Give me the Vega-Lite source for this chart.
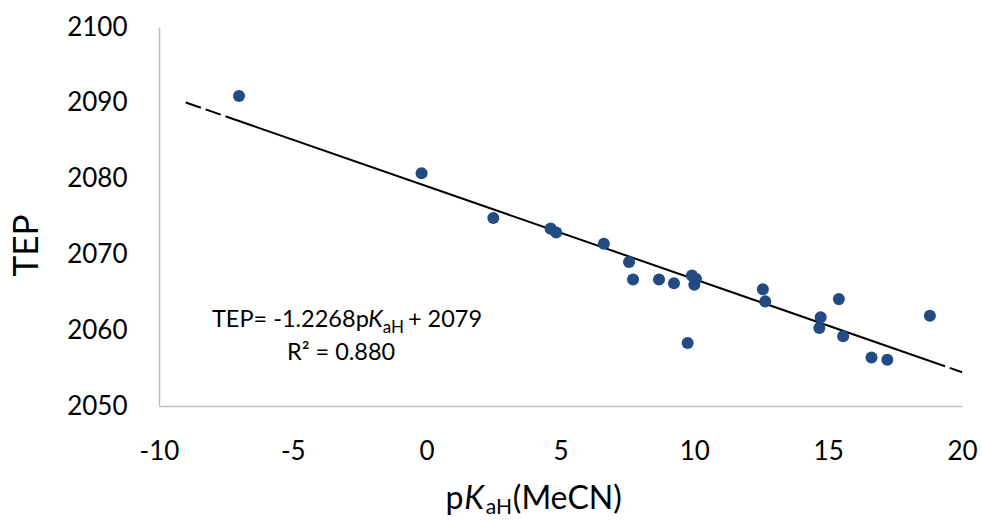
{
  "$schema": "https://vega.github.io/schema/vega-lite/v6.json",
  "width": 803,
  "height": 379,
  "autosize": {"type": "none"},
  "padding": {"left": 159, "top": 27, "right": 20, "bottom": 114},
  "background": "white",
  "config": {
    "view": {"stroke": null},
    "font": "Lato",
    "text": {"font": "Lato", "color": "#000000"}
  },
  "datasets": {
    "points": [
      {"pKaH": -7.01, "TEP": 2090.9},
      {"pKaH": -0.19, "TEP": 2080.7},
      {"pKaH": 2.49, "TEP": 2074.8},
      {"pKaH": 4.63, "TEP": 2073.4},
      {"pKaH": 4.84, "TEP": 2072.9},
      {"pKaH": 6.62, "TEP": 2071.4},
      {"pKaH": 7.56, "TEP": 2069.0},
      {"pKaH": 7.71, "TEP": 2066.7},
      {"pKaH": 8.68, "TEP": 2066.7},
      {"pKaH": 9.24, "TEP": 2066.2},
      {"pKaH": 9.91, "TEP": 2067.2},
      {"pKaH": 10.06, "TEP": 2066.8},
      {"pKaH": 10.0, "TEP": 2066.0},
      {"pKaH": 9.75, "TEP": 2058.3},
      {"pKaH": 12.56, "TEP": 2065.4},
      {"pKaH": 12.65, "TEP": 2063.8},
      {"pKaH": 15.4, "TEP": 2064.1},
      {"pKaH": 14.72, "TEP": 2061.7},
      {"pKaH": 14.67, "TEP": 2060.3},
      {"pKaH": 15.56, "TEP": 2059.2},
      {"pKaH": 16.62, "TEP": 2056.4},
      {"pKaH": 17.21, "TEP": 2056.1},
      {"pKaH": 18.8, "TEP": 2061.9}
    ],
    "trendDashed": [
      {"seg": "left", "pKaH": -9.0, "TEP": 2090.04},
      {"seg": "left", "pKaH": -7.47, "TEP": 2088.16},
      {"seg": "right", "pKaH": 18.8, "TEP": 2055.94},
      {"seg": "right", "pKaH": 20.0, "TEP": 2054.46}
    ],
    "trendSolid": [
      {"pKaH": -7.47, "TEP": 2088.16},
      {"pKaH": 18.8, "TEP": 2055.94}
    ],
    "eqNormal": [
      {"t": "TEP= -1.2268p", "pKaH": -8.02, "TEP": 2060.46},
      {"t": "+ 2079", "pKaH": -0.70, "TEP": 2060.46},
      {"t": "R² = 0.880", "pKaH": -5.22, "TEP": 2056.07}
    ],
    "eqItalic": [
      {"t": "K", "pKaH": -2.18, "TEP": 2060.46}
    ],
    "eqSub": [
      {"t": "aH", "pKaH": -1.64, "TEP": 2059.63}
    ],
    "titleNormal": [
      {"t": "p", "pKaH": 0.70, "TEP": 2036.41},
      {"t": "(MeCN)", "pKaH": 3.22, "TEP": 2036.41}
    ],
    "titleItalic": [
      {"t": "K", "pKaH": 1.40, "TEP": 2036.41}
    ],
    "titleSub": [
      {"t": "aH", "pKaH": 2.21, "TEP": 2035.75}
    ]
  },
  "encoding": {
    "x": {
      "field": "pKaH",
      "type": "quantitative",
      "scale": {"domain": [-10, 20], "nice": false, "zero": false},
      "axis": {
        "title": null,
        "values": [-10, -5, 0, 5, 10, 15, 20],
        "labelExpr": "'' + datum.value",
        "grid": false,
        "ticks": false,
        "domainColor": "#bfbfbf",
        "domainWidth": 1.5,
        "labelFont": "Lato",
        "labelFontSize": 26,
        "labelColor": "#000000",
        "labelPadding": 32,
        "labelFlush": false,
        "labelOverlap": false
      }
    },
    "y": {
      "field": "TEP",
      "type": "quantitative",
      "scale": {"domain": [2050, 2100], "nice": false, "zero": false},
      "axis": {
        "title": "TEP",
        "titleFont": "Lato",
        "titleFontSize": 35,
        "titleFontWeight": "normal",
        "titleColor": "#000000",
        "titlePadding": 22,
        "titleY": 218,
        "values": [2050, 2060, 2070, 2080, 2090, 2100],
        "grid": false,
        "ticks": false,
        "domainColor": "#bfbfbf",
        "domainWidth": 1.5,
        "labelFont": "Lato",
        "labelFontSize": 26,
        "labelColor": "#000000",
        "labelPadding": 32,
        "labelFlush": false,
        "labelOverlap": false,
        "format": "d"
      }
    }
  },
  "layer": [
    {
      "data": {"name": "trendDashed"},
      "mark": {"type": "line", "color": "#000000", "strokeWidth": 2, "strokeDash": [16, 5]},
      "encoding": {"detail": {"field": "seg", "type": "nominal"}}
    },
    {
      "data": {"name": "trendSolid"},
      "mark": {"type": "line", "color": "#000000", "strokeWidth": 2},
      "encoding": {}
    },
    {
      "data": {"name": "points"},
      "mark": {"type": "circle", "size": 145, "opacity": 1, "color": "#224b82"},
      "encoding": {}
    },
    {
      "data": {"name": "eqNormal"},
      "mark": {"type": "text", "align": "left", "baseline": "alphabetic", "fontSize": 23.5},
      "encoding": {"text": {"field": "t"}}
    },
    {
      "data": {"name": "eqItalic"},
      "mark": {"type": "text", "align": "left", "baseline": "alphabetic", "fontSize": 23.5, "fontStyle": "italic"},
      "encoding": {"text": {"field": "t"}}
    },
    {
      "data": {"name": "eqSub"},
      "mark": {"type": "text", "align": "left", "baseline": "alphabetic", "fontSize": 17},
      "encoding": {"text": {"field": "t"}}
    },
    {
      "data": {"name": "titleNormal"},
      "mark": {"type": "text", "align": "left", "baseline": "alphabetic", "fontSize": 32},
      "encoding": {"text": {"field": "t"}}
    },
    {
      "data": {"name": "titleItalic"},
      "mark": {"type": "text", "align": "left", "baseline": "alphabetic", "fontSize": 32, "fontStyle": "italic"},
      "encoding": {"text": {"field": "t"}}
    },
    {
      "data": {"name": "titleSub"},
      "mark": {"type": "text", "align": "left", "baseline": "alphabetic", "fontSize": 21},
      "encoding": {"text": {"field": "t"}}
    }
  ]
}
